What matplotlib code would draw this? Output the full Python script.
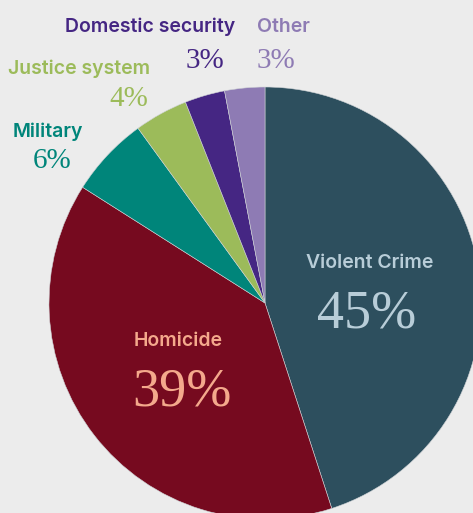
import matplotlib
matplotlib.use("Agg")
import matplotlib.pyplot as plt

# data (clockwise from 12 o'clock)
categories = ["Violent Crime", "Homicide", "Military", "Justice system", "Domestic security", "Other"]
shares = [45, 39, 6, 4, 3, 3]
colors = ["#2d4f5e", "#760a1f", "#00857a", "#9cbb5a", "#452683", "#8e7bb4"]
label_colors = ["#b8cdd8", "#f4a98c", "#00857a", "#9cbb5a", "#452683", "#8e7bb4"]

W, H = 473, 513
fig = plt.figure(figsize=(W / 100, H / 100), dpi=100)
fig.patch.set_facecolor("#ececec")
ax = fig.add_axes([0, 0, 1, 1])
ax.set_facecolor("#ececec")

ax.pie(shares, colors=colors, startangle=90, counterclock=False,
       center=(265, H - 303), radius=216,
       wedgeprops=dict(edgecolor="#cfd3d6", linewidth=0.4))
ax.set_xlim(0, W)
ax.set_ylim(0, H)
ax.set_aspect("equal")
ax.axis("off")

sans = ["Inter", "DejaVu Sans"]
serif = ["Liberation Serif", "DejaVu Serif"]

# (label x, label baseline y, ha, number x, number baseline y, ha, label size, number size)
layout = {
    "Violent Crime": (370, 268, "center", 367, 328, "center", 14, 39),
    "Homicide": (178, 346, "center", 182, 406, "center", 14, 39),
    "Military": (48, 137, "center", 52, 168, "center", 14, 21),
    "Justice system": (150, 74, "right", 148, 106, "right", 14, 21),
    "Domestic security": (235, 32, "right", 224, 68, "right", 14, 21),
    "Other": (257, 32, "left", 257, 68, "left", 14, 21),
}

for cat, val, lc in zip(categories, shares, label_colors):
    lx, ly, lha, nx, ny, nha, ls, ns = layout[cat]
    ax.text(lx, H - ly, cat, ha=lha, va="baseline", color=lc,
            fontsize=ls, fontweight="semibold", family=sans)
    ax.text(nx, H - ny, f"{val}%", ha=nha, va="baseline", color=lc,
            fontsize=ns, family=serif)

fig.savefig("out.png", dpi=100, facecolor=fig.get_facecolor())
